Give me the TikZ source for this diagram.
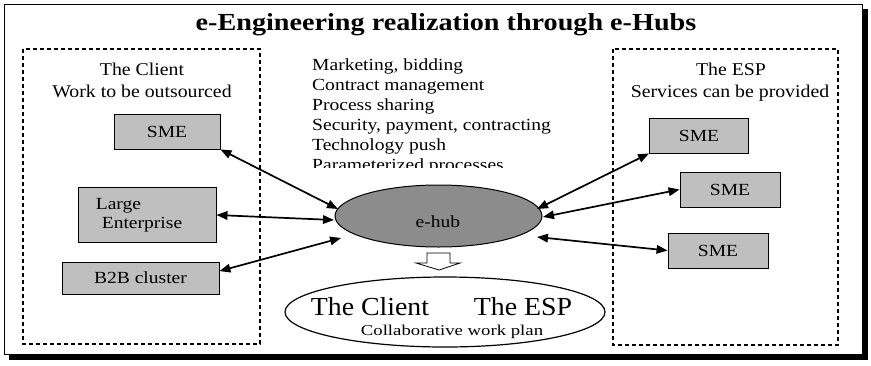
\documentclass[tikz,border=0pt]{standalone}
\usepackage{fontspec}
\setmainfont{Liberation Serif}
\newfontfamily\titlefont[FakeStretch=1.15]{Liberation Serif}
\newfontfamily\groupfont[FakeStretch=1.1]{Liberation Serif}
\newfontfamily\listfont[FakeStretch=1.15]{Liberation Serif}
\newfontfamily\unitfont[FakeStretch=1.15]{Liberation Serif}
\newfontfamily\planfont[FakeStretch=1.07]{Liberation Serif}
\newfontfamily\notefont[FakeStretch=1.25]{Liberation Serif}
\usetikzlibrary{arrows.meta,shapes.geometric}
\begin{document}
\begin{tikzpicture}[x=1pt,y=-1pt,
  group/.style={draw, line width=1.1pt, dash pattern=on 4pt off 3pt},
  unit/.style={draw, line width=0.9pt, fill=black!25, font=\unitfont\fontsize{17}{19}\selectfont, align=center, inner sep=0pt},
  link/.style={line width=1.7pt, {Triangle[length=11pt,width=8.5pt]}-{Triangle[length=11pt,width=8.5pt]}},
  label/.style={font=\groupfont\fontsize{18}{20}\selectfont, anchor=base, inner sep=0pt},
  topic/.style={font=\listfont\fontsize{17}{19}\selectfont, anchor=base west, inner sep=0pt}]
\useasboundingbox (0,0) rectangle (871,365);
% frame with drop shadow
\fill[black] (862,9) rectangle (868,360);
\fill[black] (9,354) rectangle (868,360);
\draw[line width=0.8pt, fill=white] (4,4) rectangle (862,354);
\node[font=\titlefont\bfseries\fontsize{24.5}{27}\selectfont] (title) at (446,25) {e-Engineering realization through e-Hubs};
% client and provider groups
\draw[group] (23,49) rectangle (260,344);
\draw[group] (613,49) rectangle (838,345);
\node[label] (client) at (142,75) {The Client};
\node[label] (clientsub) at (142,97) {Work to be outsourced};
\node[label] (esp) at (731,75) {The ESP};
\node[label] (espsub) at (730,97) {Services can be provided};
% left side units
\node[unit, minimum width=106pt, minimum height=35pt] (sme1) at (167,131.5) {SME};
\node[unit, align=left, minimum width=138pt, minimum height=55pt] (large) at (147,215) {Large\\\hspace*{6pt}Enterprise\rule{16pt}{0pt}};
\node[unit, minimum width=157pt, minimum height=32pt] (b2b) at (140.5,278) {B2B cluster};
% right side units
\node[unit, minimum width=99pt, minimum height=35pt] (sme2) at (699,135.5) {SME};
\node[unit, minimum width=100pt, minimum height=35pt] (sme3) at (730,189.5) {SME};
\node[unit, minimum width=100pt, minimum height=35pt] (sme4) at (718,250.5) {SME};
% services offered by the hub
\node[topic] (t1) at (312,70) {Marketing, bidding};
\node[topic] (t2) at (312,90) {Contract management};
\node[topic] (t3) at (312,110) {Process sharing};
\node[topic] (t4) at (312,130) {Security, payment, contracting};
\node[topic] (t5) at (312,150) {Technology push};
\begin{scope}
\clip (300,155) rectangle (560,167);
\node[topic] (t6) at (312,170) {Parameterized processes};
\end{scope}
% hub
\node[draw, line width=1pt, ellipse, fill=black!45, minimum width=207pt, minimum height=62pt] (hub) at (438.5,216) {};
\node[font=\unitfont\fontsize{17}{19}\selectfont] (hubtext) at (438,222) {e-hub};
\coordinate (hl1) at (338,209);
\coordinate (hl2) at (334,220);
\coordinate (hl3) at (341,238);
\coordinate (hr1) at (537,209);
\coordinate (hr2) at (543,217);
\coordinate (hr3) at (537,237);
% links
\draw[link] (sme1.south east) -- (hl1);
\draw[link] (large.east) -- (hl2);
\draw[link] (b2b.5) -- (hl3);
\draw[link] (sme2.south west) -- (hr1);
\draw[link] (sme3.west) -- (hr2);
\draw[link] (sme4.west) -- (hr3);
% outlined down arrow
\draw[line width=0.8pt, fill=white] (427,253) -- (450,253) -- (450,263) -- (460,263) -- (439,270) -- (416,263) -- (427,263) -- cycle;
% shared plan
\node[draw, line width=1.2pt, ellipse, minimum width=320pt, minimum height=70pt] (plan) at (445,312) {};
\node[font=\planfont\fontsize{26}{28}\selectfont, anchor=base, inner sep=0pt] (pc) at (370,315) {The Client};
\node[font=\planfont\fontsize{26}{28}\selectfont, anchor=base, inner sep=0pt] (pe) at (523,315) {The ESP};
\node[font=\notefont\fontsize{15}{17}\selectfont, anchor=base, inner sep=0pt] (cw) at (452,335) {Collaborative work plan};
\end{tikzpicture}
\end{document}
